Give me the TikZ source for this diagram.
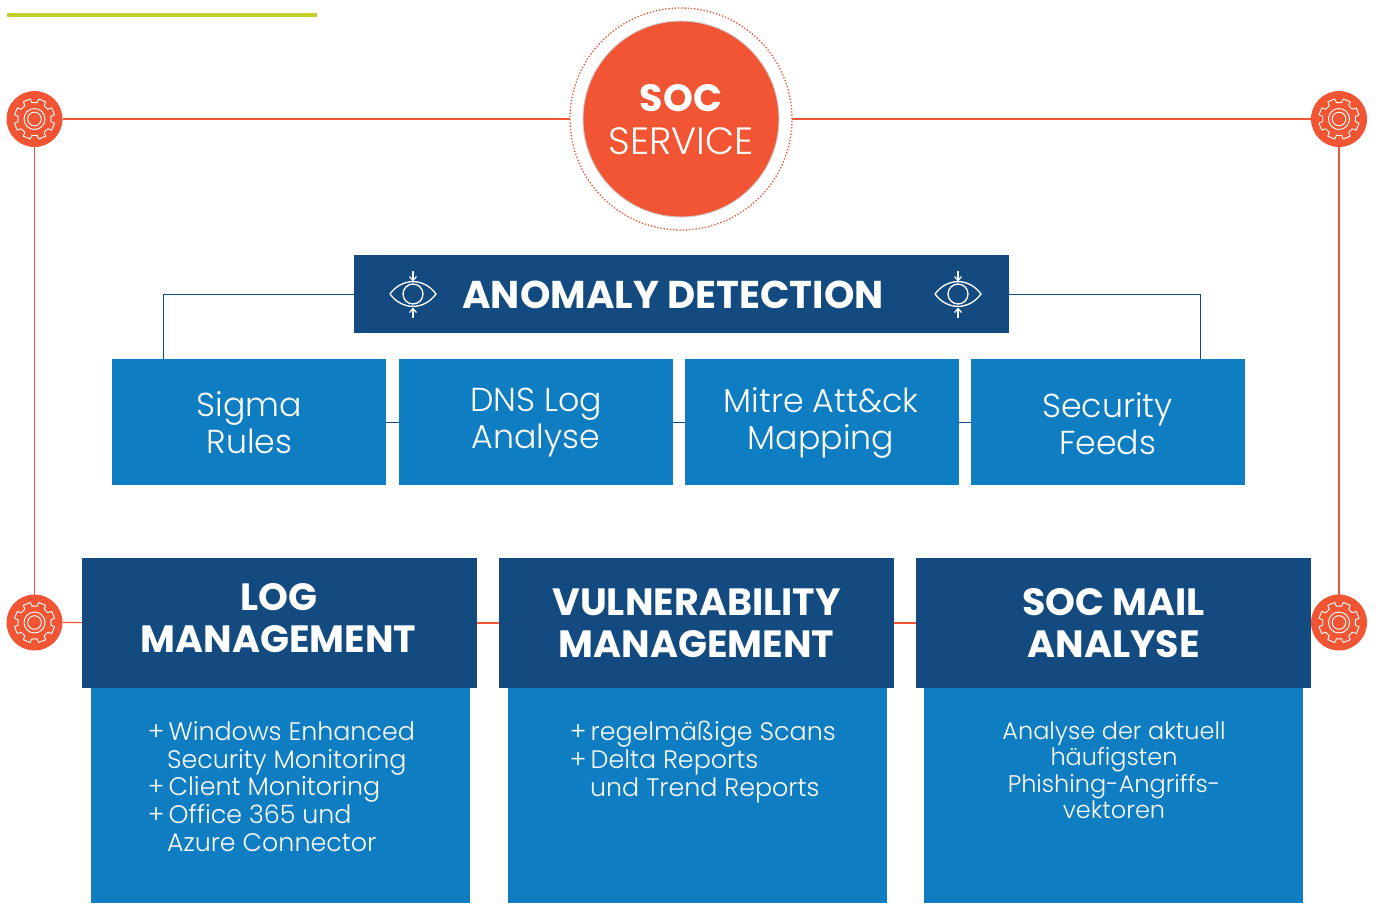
\documentclass[tikz,border=0pt]{standalone}
\usepackage{fontspec}
\setmainfont{Poppins Light}
\newfontfamily\pbold{Poppins Bold}
\definecolor{orangeC}{HTML}{F25533}
\definecolor{navyC}{HTML}{134A7F}
\definecolor{blueC}{HTML}{0F7DC2}
\definecolor{oliveC}{HTML}{C4CE2B}
\newcommand{\fs}[2]{\fontsize{#1}{#2}\selectfont}
\newcommand{\plusitem}{+\hspace*{-2pt} }
\tikzset{
  x=0.75pt,y=-0.75pt,
  orangeline/.style={draw=orangeC,line width=0.95pt},
  navyline/.style={draw=navyC,line width=0.6pt},
  navybox/.style={fill=navyC,inner sep=0pt,outer sep=0pt},
  bluebox/.style={fill=blueC,inner sep=0pt,outer sep=0pt},
  smalltext/.style={text=white,align=center,inner sep=0pt,font=\fs{24.9}{27.75}},
  headtext/.style={text=white,align=center,inner sep=0pt,font=\pbold\fs{28.5}{31.5}},
  bodytext/.style={text=white,align=left,inner sep=0pt,font=\fs{19}{20.8}},
  mailtext/.style={text=white,align=center,inner sep=0pt,font=\fs{18}{19.8}},
  gearnode/.style={circle,fill=orangeC,minimum size=42pt,inner sep=0pt,outer sep=0pt},
  iconline/.style={draw=white,line width=0.7pt},
  gearicon/.pic={
    \draw[iconline,line join=round] (0:16.5)
      \foreach \a in {0,45,...,315} {
        -- ({\a+9}:16.5) -- ({\a+12}:20.5) -- ({\a+33}:20.5) -- ({\a+36}:16.5)
      } -- cycle;
    \draw[iconline] (0,0) circle[radius=10.5];
    \draw[iconline] (0,0) circle[radius=6.8];
  },
  eyeicon/.pic={
    \draw[iconline,line width=1pt,line join=round] (-23,0) .. controls (-11,-16.5) and (11,-16.5) .. (23,0)
      .. controls (11,16.5) and (-11,16.5) .. (-23,0) -- cycle;
    \draw[iconline,line width=1pt] (0,0) circle[radius=10];
    \draw[iconline,line width=0.9pt] (0,-23) -- (0,-14);
    \draw[iconline,line width=0.9pt,line join=round] (-3.5,-17.5) -- (0,-13.5) -- (3.5,-17.5);
    \draw[iconline,line width=0.9pt] (0,24) -- (0,15);
    \draw[iconline,line width=0.9pt,line join=round] (-3.5,18.5) -- (0,14.5) -- (3.5,18.5);
  }
}
\begin{document}
\begin{tikzpicture}
\useasboundingbox (0,0) rectangle (1381,903);
% accent bar
\fill[oliveC] (7,13) rectangle (317,17);

% central circle
\node[circle,draw=orangeC,dash pattern=on 1pt off 1.4pt,line width=1pt,minimum size=166.5pt,inner sep=0pt,outer sep=0pt] (socring) at (681,119) {};
\node[circle,fill=orangeC,draw=black!20,line width=0.7pt,minimum size=147pt,inner sep=0pt] (soc) at (681,119) {};
\node[text=white,inner sep=0pt,font=\pbold\fs{28.5}{30}] (soct) at (681,98) {SOC};
\node[text=white,inner sep=0pt,font=\fs{28.5}{30}] (svct) at (681,141) {SERVICE};

% gears
\node[gearnode] (g1) at (34.5,119) {};
\node[gearnode] (g2) at (1339,119) {};
\node[gearnode] (g3) at (34.5,622.5) {};
\node[gearnode] (g4) at (1339,622.5) {};
\pic at (34.5,119) {gearicon};
\pic at (1339,119) {gearicon};
\pic at (34.5,622.5) {gearicon};
\pic at (1339,622.5) {gearicon};

% anomaly
\node[navybox,minimum width=491.25pt,minimum height=58.5pt] (anom) at (681.5,294) {};
\node[text=white,inner sep=0pt,font=\pbold\fs{29.05}{30}] (anomt) at (673,294.5) {ANOMALY DETECTION};
\pic at (413,294) {eyeicon};
\pic at (958,294) {eyeicon};

% small boxes
\node[bluebox,minimum width=205.5pt,minimum height=94.5pt] (sigma) at (249,422) {};
\node[bluebox,minimum width=205.5pt,minimum height=94.5pt] (dns) at (536,422) {};
\node[bluebox,minimum width=205.5pt,minimum height=94.5pt] (mitre) at (822,422) {};
\node[bluebox,minimum width=205.5pt,minimum height=94.5pt] (feeds) at (1108,422) {};
\node[smalltext] (sigmat) at (249.5,423) {Sigma\\Rules};
\node[smalltext] (dnst) at (536,423) {DNS Log\\Analyse};
\node[smalltext] (mitret) at (821,423) {Mitre Att\&ck\\Mapping};
\node[smalltext] (feedst) at (1107.5,424) {Security\\Feeds};

% connector ends on the outer small boxes
\coordinate (sigtop) at (163.5,359);
\coordinate (feedtop) at (1200,359);

% lower columns
\node[bluebox,minimum width=284.25pt,minimum height=161.25pt,anchor=north] (logb) at (280.5,688) {};
\node[bluebox,minimum width=284.25pt,minimum height=161.25pt,anchor=north] (vulb) at (697.5,688) {};
\node[bluebox,minimum width=284.25pt,minimum height=161.25pt,anchor=north] (mailb) at (1113.5,688) {};
\node[navybox,minimum width=296.25pt,minimum height=97.5pt] (logh) at (279.5,623) {};
\node[navybox,minimum width=296.25pt,minimum height=97.5pt] (vulh) at (696.5,623) {};
\node[navybox,minimum width=296.25pt,minimum height=97.5pt] (mailh) at (1113.5,623) {};
\node[headtext] (loght) at (278.5,618) {LOG\\MANAGEMENT};
\node[headtext] (vulht) at (696.5,623) {VULNERABILITY\\MANAGEMENT};
\node[headtext] (mailht) at (1113.5,623) {SOC MAIL\\ANALYSE};

\node[bodytext,anchor=north west] (logt) at (147.5,721) {\plusitem Windows Enhanced\\\hspace*{14.5pt}Security Monitoring\\\plusitem Client Monitoring\\\plusitem Office 365 und\\\hspace*{14.5pt}Azure Connector};
\node[bodytext,anchor=north west] (vult) at (569.5,721) {\plusitem regelmäßige Scans\\\plusitem Delta Reports\\\hspace*{15.3pt}und Trend Reports};
\node[mailtext,anchor=north] (mailt) at (1114,721.5) {Analyse der aktuell\\häufigsten\\Phishing-Angriffs-\\vektoren};

% connectors
\draw[orangeline] (g1) -- (socring);
\draw[orangeline] (socring) -- (g2);
\draw[orangeline] (g1) -- (g3);
\draw[orangeline] (g2) -- (g4);
\draw[orangeline] (g3) -- (logh);
\draw[orangeline] (logh) -- (vulh);
\draw[orangeline] (vulh) -- (mailh);
\draw[orangeline] (mailh) -- (g4);
\draw[navyline] (anom.west) -| (sigtop);
\draw[navyline] (anom.east) -| (feedtop);
\draw[navyline] (sigma) -- (dns);
\draw[navyline] (dns) -- (mitre);
\draw[navyline] (mitre) -- (feeds);
\end{tikzpicture}
\end{document}
